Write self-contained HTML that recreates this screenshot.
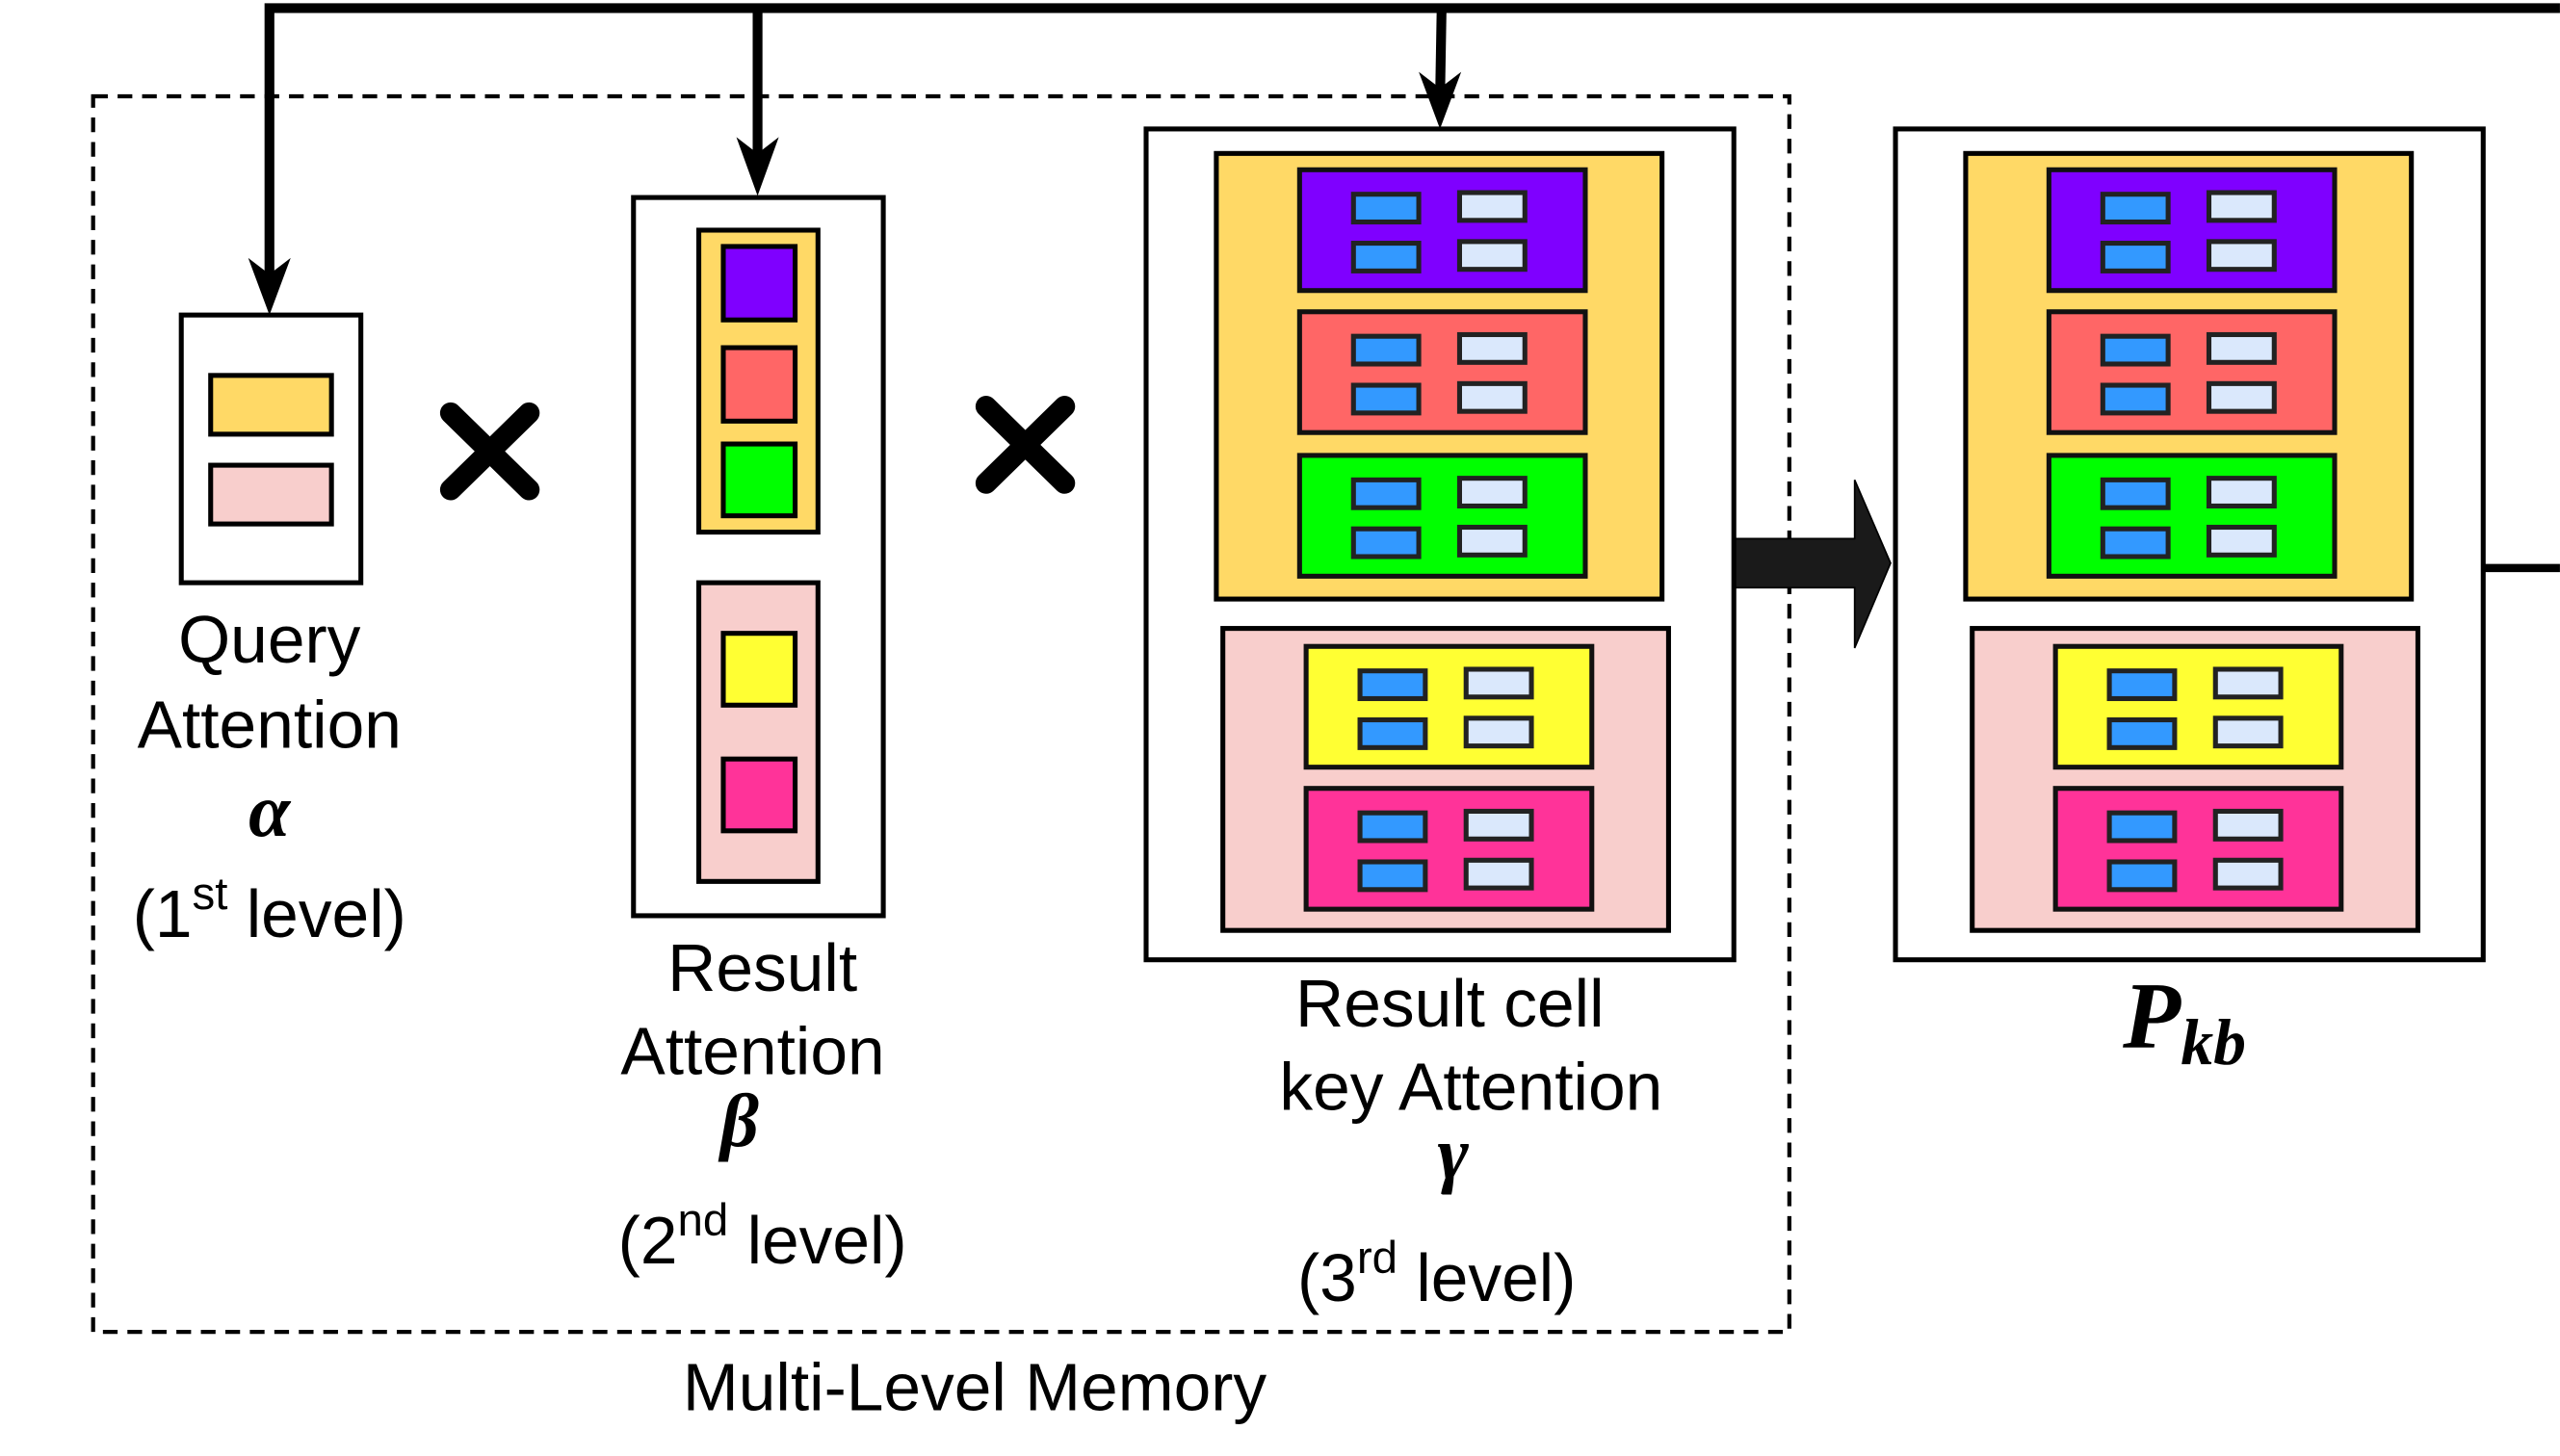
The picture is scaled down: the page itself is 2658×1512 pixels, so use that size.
<!DOCTYPE html>
<html><head><meta charset="utf-8"><style>
html,body{margin:0;padding:0;background:#fff;}
svg{display:block;}
text{font-family:"Liberation Sans",sans-serif;fill:#000;}
.m{font-family:"Liberation Serif",serif;font-style:italic;font-weight:bold;}
</style></head><body>
<svg width="2658" height="1512" viewBox="0 0 1568 892" xmlns="http://www.w3.org/2000/svg">
<defs>
<g id="cell">
<rect x="0" y="0" width="175" height="74" stroke="#111" stroke-width="3"/>
<rect x="33" y="15" width="40" height="17" fill="#3399ff" stroke="#222" stroke-width="3"/>
<rect x="98" y="14" width="40" height="17" fill="#dae8fc" stroke="#222" stroke-width="3"/>
<rect x="33" y="45" width="40" height="17" fill="#3399ff" stroke="#222" stroke-width="3"/>
<rect x="98" y="44" width="40" height="17" fill="#dae8fc" stroke="#222" stroke-width="3"/>
</g>
<g id="big">
<rect x="0" y="0" width="360" height="509" fill="#fff" stroke="#000" stroke-width="3"/>
<rect x="43" y="15" width="273" height="273" fill="#ffd966" stroke="#000" stroke-width="3"/>
<use href="#cell" x="94" y="25" fill="#7f00ff"/>
<use href="#cell" x="94" y="112" fill="#ff6666"/>
<use href="#cell" x="94" y="200" fill="#00ff00"/>
<rect x="47" y="306" width="273" height="185" fill="#f8cecc" stroke="#000" stroke-width="3"/>
<use href="#cell" x="98" y="317" fill="#ffff33"/>
<use href="#cell" x="98" y="404" fill="#ff3399"/>
</g>
</defs>

<!-- dashed memory -->
<rect x="57" y="59" width="1039" height="757" fill="none" stroke="#000" stroke-width="2.5" stroke-dasharray="9 6"/>

<!-- top connectors -->
<path d="M1568,5 L165,5 L165,175" fill="none" stroke="#000" stroke-width="6"/>
<path d="M165,193 L152,158 L165,168 L178,158 Z" fill="#000"/>
<path d="M464,5 L464,100" fill="none" stroke="#000" stroke-width="6"/>
<path d="M464,120 L451,84 L464,94 L477,84 Z" fill="#000"/>
<path d="M883,5 L882,62" fill="none" stroke="#000" stroke-width="6"/>
<path d="M882,79 L869,44 L882,54 L895,44 Z" fill="#000"/>

<!-- Query box -->
<rect x="111" y="193" width="110" height="164" fill="#fff" stroke="#000" stroke-width="3"/>
<rect x="129" y="230" width="74" height="36" fill="#ffd966" stroke="#000" stroke-width="3"/>
<rect x="129" y="285" width="74" height="36" fill="#f8cecc" stroke="#000" stroke-width="3"/>

<!-- X marks -->
<g stroke="#000" stroke-width="13" stroke-linecap="round">
<line x1="276" y1="253" x2="324" y2="300"/><line x1="324" y1="253" x2="276" y2="300"/>
<line x1="604" y1="249" x2="652" y2="296"/><line x1="652" y1="249" x2="604" y2="296"/>
</g>

<!-- Result box -->
<rect x="388" y="121" width="153" height="440" fill="#fff" stroke="#000" stroke-width="3"/>
<rect x="428" y="141" width="73" height="185" fill="#ffd966" stroke="#000" stroke-width="3"/>
<rect x="443" y="151" width="44" height="45" fill="#7f00ff" stroke="#000" stroke-width="3"/>
<rect x="443" y="213" width="44" height="45" fill="#ff6666" stroke="#000" stroke-width="3"/>
<rect x="443" y="272" width="44" height="44" fill="#00ff00" stroke="#000" stroke-width="3"/>
<rect x="428" y="357" width="73" height="183" fill="#f8cecc" stroke="#000" stroke-width="3"/>
<rect x="443" y="388" width="44" height="44" fill="#ffff33" stroke="#000" stroke-width="3"/>
<rect x="443" y="465" width="44" height="44" fill="#ff3399" stroke="#000" stroke-width="3"/>

<!-- Big boxes -->
<use href="#big" x="702" y="79"/>
<use href="#big" x="1161" y="79"/>

<!-- big arrow -->
<path d="M1063,330 L1136,330 L1136,294 L1158,345 L1136,397 L1136,360 L1063,360 Z" fill="#1a1a1a" stroke="#000" stroke-width="1"/>
<line x1="1521" y1="348" x2="1568" y2="348" stroke="#000" stroke-width="5"/>

<!-- labels -->
<g font-size="41" text-anchor="middle" textLength="0">
<text x="165" y="406">Query</text>
<text x="165" y="458">Attention</text>
<text x="165" y="512" class="m" font-size="46">α</text>
<text x="165" y="574">(1<tspan font-size="28" dy="-17">st</tspan><tspan dy="17"> level)</tspan></text>

<text x="467" y="607">Result</text>
<text x="461" y="658">Attention</text>
<text x="453" y="702" class="m" font-size="46">β</text>
<text x="467" y="774">(2<tspan font-size="28" dy="-17">nd</tspan><tspan dy="17"> level)</tspan></text>

<text x="888" y="629">Result cell</text>
<text x="901" y="680">key Attention</text>
<text x="890" y="722" class="m" font-size="46">γ</text>
<text x="880" y="797">(3<tspan font-size="28" dy="-17">rd</tspan><tspan dy="17"> level)</tspan></text>

<text x="1338" y="642" class="m" font-size="58">P<tspan font-size="40" dy="10">kb</tspan></text>

<text x="597" y="864">Multi-Level Memory</text>
</g>
</svg>
</body></html>
